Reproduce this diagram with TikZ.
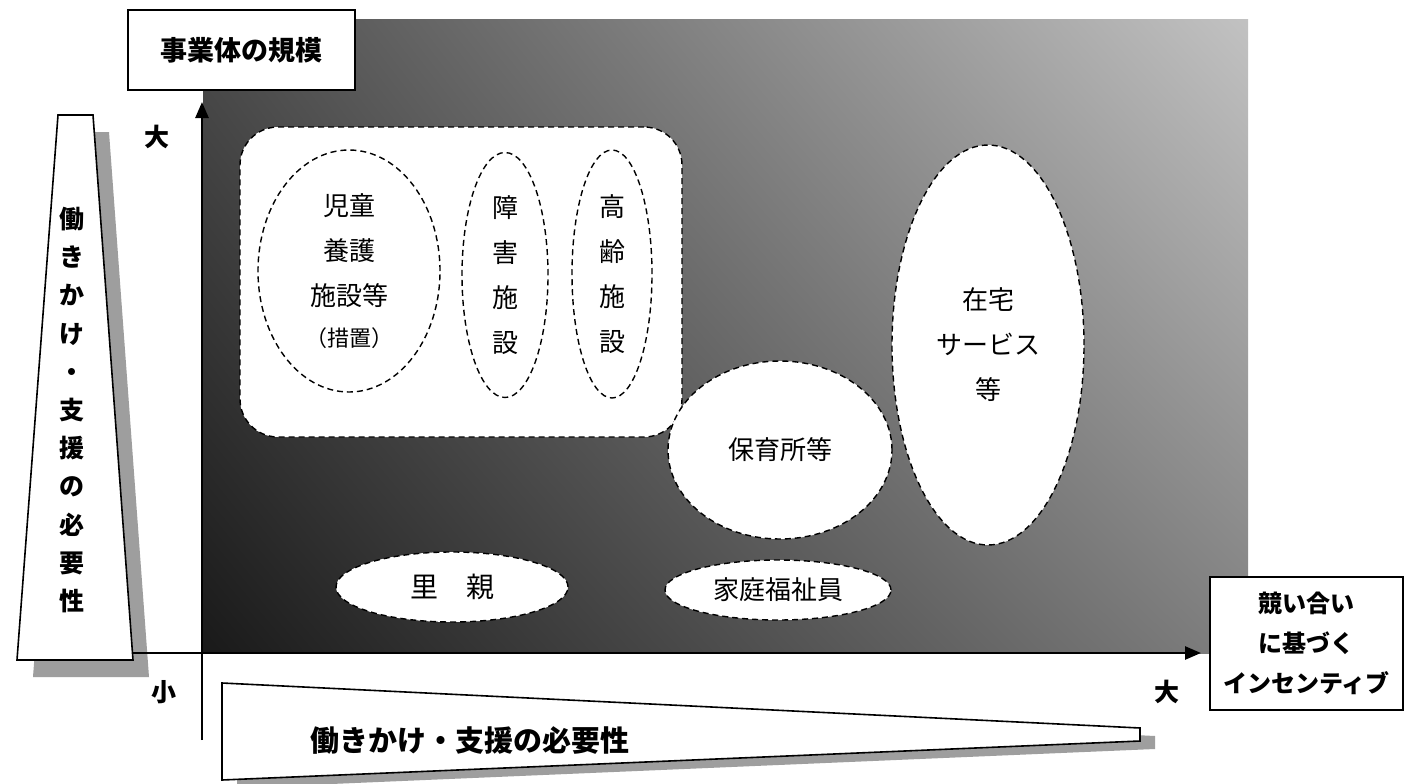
\documentclass[tikz,border=0pt]{standalone}
\usepackage{fontspec}
\setmainfont{Noto Sans CJK JP}
\usetikzlibrary{shapes.geometric,arrows.meta,shadings}
\begin{document}
\begin{tikzpicture}[x=1pt,y=-1pt,
  dashline/.style={draw=black, line width=1.4pt, dash pattern=on 6pt off 4pt},
  bubble/.style={ellipse, dashline, fill=white, inner sep=0pt, align=center, font=\fontsize{26}{45}\selectfont},
  labelbox/.style={draw=black, line width=1.6pt, fill=white, align=center, inner sep=0pt},
  axisline/.style={line width=2.6pt, -{Triangle[length=16pt,width=13pt]}},
  shadowfill/.style={fill=black!38, draw=none},
  boldlabel/.style={font=\bfseries\fontsize{25}{30}\selectfont, inner sep=0pt}
]
\useasboundingbox (0,0) rectangle (1405,784);
\fill[white] (0,0) rectangle (1405,784);

% background gradient
\shade[upper left=black!70, upper right=black!24, lower left=black!90, lower right=black!50]
  (203,20) rectangle (1248,653);

% title box
\node[labelbox, minimum width=227pt, minimum height=80pt, font=\bfseries\fontsize{27}{30}\selectfont] (title) at (241.5,50) {事業体の規模};

% left trapezoid with shadow
\fill[shadowfill] (74,132) -- (109,132) -- (149,677) -- (33,677) -- cycle;
\draw[fill=white, line width=1.6pt] (58,115) -- (93,115) -- (133,660) -- (17,660) -- cycle;
\node[font=\bfseries\fontsize{25}{38.2}\selectfont, align=center, inner sep=0pt] (lefttext) at (72,410)
  {働\\き\\か\\け\\・\\支\\援\\の\\必\\要\\性};

% bottom trapezoid with shadow
\fill[shadowfill] (237,691) -- (1155,736) -- (1155,749) -- (237,788) -- cycle;
\draw[fill=white, line width=1.6pt] (222,683) -- (1140,728) -- (1140,741) -- (222,780) -- cycle;
\node[font=\bfseries\fontsize{29}{32}\selectfont, inner sep=0pt] (bottomtext) at (470,740) {働きかけ・支援の必要性};

% axes
\coordinate (vb) at (202,740);
\coordinate (vt) at (202,102);
\coordinate (hl) at (133,653);
\coordinate (hr) at (1201,653);
\draw[axisline] (vb) -- (vt);
\draw[axisline] (hl) -- (hr);

\node[boldlabel] (bigy) at (157,137) {大};
\node[boldlabel] (smallx) at (164,692) {小};
\node[boldlabel] (bigx) at (1167,692) {大};

% compete box
\node[labelbox, minimum width=193pt, minimum height=133pt, font=\bfseries\fontsize{24}{40}\selectfont] (comp) at (1306.5,643.5)
  {競い合い\\に基づく\\インセンティブ};

% institutional group
\node[rectangle, rounded corners=38pt, dashline, fill=white, minimum width=442pt, minimum height=310pt, inner sep=0pt] (inst) at (461,282) {};

\node[bubble, minimum width=182pt, minimum height=242pt] (child) at (349,271)
  {児童\\養護\\施設等\\[-4pt]{\fontsize{22}{24}\selectfont （措置）}};
\node[bubble, minimum width=86pt, minimum height=245pt] (disab) at (505,275) {障\\害\\施\\設};
\node[bubble, minimum width=80pt, minimum height=248pt] (elder) at (612,274) {高\\齢\\施\\設};

\node[bubble, minimum width=224pt, minimum height=178pt] (nursery) at (780,450) {保育所等};
\node[bubble, minimum width=192pt, minimum height=400pt] (home) at (988,345) {在宅\\サービス\\等};
\node[bubble, minimum width=232pt, minimum height=70pt, font=\fontsize{28}{30}\selectfont] (foster) at (452,587) {里　親};
\node[bubble, minimum width=226pt, minimum height=60pt] (family) at (778,590) {家庭福祉員};
\end{tikzpicture}
\end{document}
